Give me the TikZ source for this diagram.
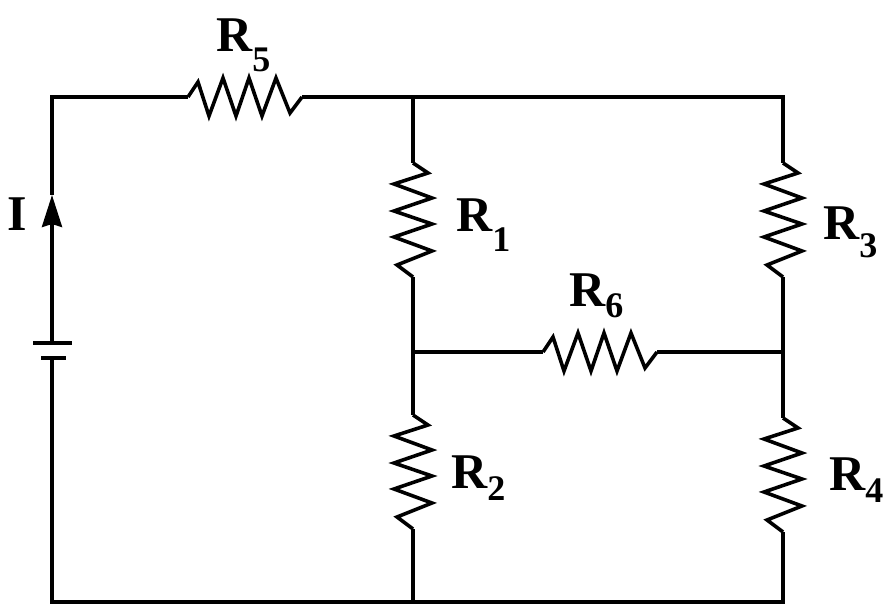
\documentclass[tikz,border=0pt]{standalone}
\usepackage{fontspec}
\setmainfont{Liberation Serif}
\usetikzlibrary{arrows.meta}
\newcommand{\Rlab}[2]{R\raisebox{-#2pt}{\fontsize{36}{40}\selectfont #1}}
\begin{document}
\begin{tikzpicture}[x=1pt,y=1pt,
  wire/.style={line width=3.6pt, line join=miter, line cap=butt},
  plate/.style={line width=4.6pt},
  lbl/.style={anchor=base west, inner sep=0pt, font=\fontsize{50}{60}\selectfont\bfseries},
  resistor/.pic={\draw[wire] (0,0)--(10,15)--(21,-19)--(35,19)--(48,-19)--(61,19)--(74,-19)--(88,19)--(102,-16)--(114,0);}]
\useasboundingbox (0,0) rectangle (892,614);
% corners and junctions
\coordinate (TL) at (52,517);
\coordinate (TR) at (783,517);
\coordinate (BL) at (52,12);
\coordinate (BR) at (783,12);
\coordinate (J1) at (413,517);
\coordinate (J2) at (413,262);
\coordinate (J3) at (783,262);
\coordinate (J4) at (413,12);
% resistor ends
\coordinate (R5s) at (188,517); \coordinate (R5e) at (302,517);
\coordinate (R1s) at (413,451); \coordinate (R1e) at (413,337);
\coordinate (R3s) at (783,451); \coordinate (R3e) at (783,337);
\coordinate (R6s) at (543,262); \coordinate (R6e) at (657,262);
\coordinate (R2s) at (413,199); \coordinate (R2e) at (413,85);
\coordinate (R4s) at (783,196); \coordinate (R4e) at (783,82);
% battery
\coordinate (Bt) at (52,271);
\coordinate (Bb) at (52,256);
\coordinate (LpA) at (33,271); \coordinate (LpB) at (72,271);
\coordinate (SpA) at (41,256); \coordinate (SpB) at (66,256);
\coordinate (Atip) at (52,419);
% resistors
\pic at (R5s) {resistor};
\pic at (R6s) {resistor};
\pic[rotate=-90] at (R1s) {resistor};
\pic[rotate=-90] at (R3s) {resistor};
\pic[rotate=-90] at (R2s) {resistor};
\pic[rotate=-90] at (R4s) {resistor};
% wires
\draw[wire, -{Stealth[length=32pt,width=20pt,inset=3pt]}] (Bt) -- (Atip);
\draw[wire] (Atip) -- (TL) -- (R5s);
\draw[wire] (R5e) -- (J1) -- (TR) -- (R3s);
\draw[wire] (J1) -- (R1s);
\draw[wire] (R1e) -- (J2) -- (R2s);
\draw[wire] (R2e) -- (J4);
\draw[wire] (J2) -- (R6s);
\draw[wire] (R6e) -- (J3);
\draw[wire] (R3e) -- (J3) -- (R4s);
\draw[wire] (Bb) -- (BL) -- (J4) -- (BR) -- (R4e);
\draw[plate] (LpA) -- (LpB);
\draw[plate] (SpA) -- (SpB);
% labels
\node[lbl] (l5) at (216,562) {\Rlab{5}{20}};
\node[lbl] (l1) at (456,382) {\Rlab{1}{20}};
\node[lbl] (l3) at (823,374) {\Rlab{3}{18}};
\node[lbl] (l6) at (569,307) {\Rlab{6}{11}};
\node[lbl] (l2) at (451,126) {\Rlab{2}{12}};
\node[lbl] (l4) at (829,124) {\Rlab{4}{12}};
\node[lbl] (lI) at (7,383) {I};
\end{tikzpicture}
\end{document}
